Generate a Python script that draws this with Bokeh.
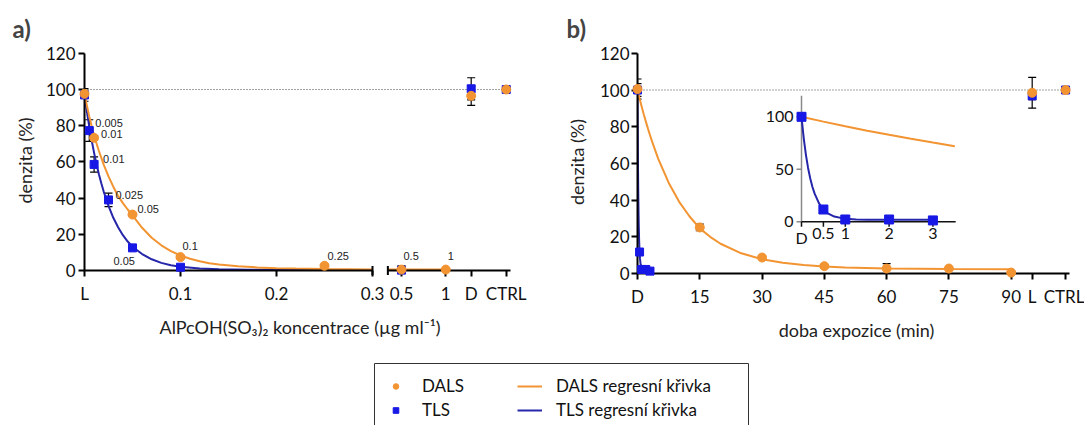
import numpy as np
from bokeh.plotting import figure
from bokeh.layouts import column, row
from bokeh.models import ColumnDataSource, Whisker, TeeHead, FixedTicker, Range1d, Legend
from bokeh.core.properties import value
from bokeh.embed import file_html
from bokeh.resources import INLINE

# ===================== DATA =====================
# ---- panel a: concentration (µg/ml), 0 = L (laser only)
a_dals_conc = [0, 0.01, 0.05, 0.1, 0.25, 0.5, 1]
a_dals = [97.6, 73.3, 30.9, 7.4, 2.6, 0.5, 0.5]
a_dals_err = [1.5, 1.2, 0.8, 0.8, 0.6, 0.6, 0.5]
a_dals_labels = ["", "0.01", "0.05", "0.1", "0.25", "0.5", "1"]

a_tls_conc = [0, 0.005, 0.01, 0.025, 0.05, 0.1, 0.5]
a_tls = [97.0, 77.3, 58.6, 39.0, 12.5, 1.8, 0.2]
a_tls_err = [3.5, 6.0, 4.2, 3.7, 1.0, 0.8, 2.4]
a_tls_labels = ["", "0.005", "0.01", "0.025", "0.05", "", ""]

a_ctrl_cats = ["D", "CTRL"]
a_dals_ctrl = [96.5, 100.0]
a_dals_ctrl_err = [5.3, 0.8]
a_tls_ctrl = [100.4, 100.0]
a_tls_ctrl_err = [6.1, 0.8]

a_dals_fit_conc = [0, 0.005, 0.01, 0.015, 0.02, 0.025, 0.03, 0.035, 0.04, 0.045, 0.05,
                   0.06, 0.07, 0.08, 0.09, 0.1, 0.11, 0.12, 0.13, 0.14, 0.16, 0.18,
                   0.2, 0.22, 0.25, 0.3]
a_dals_fit = [97.2, 85.0, 74.5, 66.0, 58.5, 52.0, 46.3, 41.2, 37.2, 33.7, 30.5,
              23.6, 18.1, 13.9, 10.7, 8.3, 6.5, 5.1, 4.0, 3.3, 2.3, 1.7,
              1.3, 1.05, 0.85, 0.6]
a_tls_fit_conc = [0, 0.0025, 0.005, 0.0075, 0.01, 0.0125, 0.015, 0.0175, 0.02, 0.025,
                  0.03, 0.035, 0.04, 0.045, 0.05, 0.06, 0.07, 0.08, 0.09, 0.1,
                  0.12, 0.14, 0.17, 0.2, 0.25, 0.3]
a_tls_fit = [97.0, 87.8, 79.4, 71.9, 65.0, 58.8, 53.2, 48.2, 43.6, 35.7,
             29.1, 23.9, 19.5, 16.0, 13.1, 9.1, 6.2, 4.2, 2.9, 2.1,
             1.1, 0.7, 0.45, 0.35, 0.3, 0.3]
a_dals_fit2_conc = [0.35, 1.0]
a_dals_fit2 = [0.5, 0.5]
a_tls_fit2_conc = [0.35, 0.5]
a_tls_fit2 = [0.3, 0.3]

a_tick_conc = [0, 0.1, 0.2, 0.3, 0.5, 1]
a_tick_labels = ["L", "0.1", "0.2", "0.3", "0.5", "1"]

# ---- panel b: exposure time (min), 0 = D
b_dals_time = [0, 15, 30, 45, 60, 75, 90]
b_dals = [100.5, 25.1, 8.7, 4.0, 2.7, 2.7, 0.5]
b_dals_err = [5.5, 1.8, 0.8, 0.8, 2.7, 0.6, 0.5]
b_tls_time = [0, 0.5, 1, 2, 3]
b_tls = [100.0, 11.7, 2.2, 2.2, 1.3]
b_tls_err = [3.5, 1.0, 0.8, 0.8, 0.8]

b_ctrl_cats = ["L", "CTRL"]
b_dals_ctrl = [98.5, 100.0]
b_dals_ctrl_err = [8.4, 0.6]
b_tls_ctrl = [96.8, 100.0]
b_tls_ctrl_err = [2.0, 0.6]

b_dals_fit_time = [0, 0.5, 1, 1.5, 2, 2.5, 3, 3.5, 5, 7.5, 10, 12.5, 15, 17.5, 20, 25,
                   30, 35, 40, 45, 50, 60, 75, 90]
b_dals_fit = [100.0, 95.4, 91.0, 86.8, 82.9, 79.1, 75.5, 72.0, 62.5, 49.5, 39.2, 31.2,
              24.6, 20.0, 16.2, 11.0, 7.8, 5.8, 4.6, 3.8, 3.3, 2.7, 2.4, 2.3]
b_tls_fit_time = [0, 0.05, 0.1, 0.15, 0.2, 0.25, 0.3, 0.4, 0.5, 0.6, 0.75, 1, 1.25,
                  1.5, 2, 3]
b_tls_fit = [100.0, 80.0, 64.0, 51.3, 41.2, 33.2, 26.8, 17.6, 11.8, 8.1, 5.0, 2.8, 2.2,
             2.0, 1.9, 1.9]

b_tick_time = [0, 15, 30, 45, 60, 75, 90]
b_tick_labels = ["D", "15", "30", "45", "60", "75", "90"]

inset_x_ticks = [0, 0.5, 1, 2, 3]
inset_x_labels = ["D", "0.5", "1", "2", "3"]
inset_y_ticks = [0, 50, 100]
inset_y_labels = ["0", "50", "100"]

y_ticks = [0, 20, 40, 60, 80, 100, 120]
ref_level = 100.0

# ===================== STYLE / LAYOUT =====================
ORANGE = "#F29432"
BLUE_M = "#1818E6"
BLUE_L = "#2626AA"
FONT = "Lato"

# panel a geometry (pixels); frame edges sit on the axis lines
A_PX_X = 96.0          # px per 0.1 µg/ml
A_PX_Y = 1.81
A_LEFT, A_FW, A_RIGHT = 84, 431, 25
A_TOP, A_FH, A_BOTTOM = 50, 220, 70
A_SEG2_ORIGIN = 3.302  # position of 0.5
A_SEG2_SCALE = 0.922
A_CAT_POS = {"D": 4.028, "CTRL": 4.393}
A_SEG1_END, A_SEG2_BEGIN, A_AXIS_END = 3.0, 3.16, 4.4375

# panel b geometry
B_PX_X = 4.152
B_PX_Y = 1.835
B_LEFT, B_FW, B_RIGHT = 97, 438, 9
B_TOP, B_FH, B_BOTTOM = 47, 223, 70
B_CAT_POS = {"L": 95.06, "CTRL": 103.1}
B_AXIS_END = 104.1

# inset geometry (local pixels in panel b)
I_X0, I_Y0 = 261.0, 218.3
I_PX_X, I_PX_Y = 43.8, 1.05
I_X_END, I_Y_END = 3.52, 120


def a_pos(c):
    if c <= 0.3:
        return round(10 * c, 4)
    return round(A_SEG2_ORIGIN + (c - 0.5) * A_SEG2_SCALE, 4)


def style_axes(p, tick_std_x, tick_std_y, lab_std_x, lab_std_y):
    for ax in (p.xaxis[0], p.yaxis[0]):
        ax.axis_line_width = 2
        ax.axis_line_color = "black"
        ax.major_tick_line_width = 2
        ax.major_tick_line_color = "black"
        ax.major_tick_out = 6
        ax.major_tick_in = 0
        ax.minor_tick_line_color = None
        ax.major_label_text_font = FONT
        ax.major_label_text_font_size = "17px"
        ax.major_label_text_color = "#111111"
        ax.axis_label_text_font = FONT
        ax.axis_label_text_font_size = "18px"
        ax.axis_label_text_font_style = "normal"
        ax.axis_label_text_color = "#222222"
    p.xaxis[0].major_label_standoff = tick_std_x
    p.yaxis[0].major_label_standoff = tick_std_y
    p.xaxis[0].axis_label_standoff = lab_std_x
    p.yaxis[0].axis_label_standoff = lab_std_y
    p.yaxis[0].ticker = FixedTicker(ticks=y_ticks)
    p.yaxis[0].bounds = (0, 120)
    p.grid.visible = False
    p.outline_line_color = None
    p.title.text_font = FONT
    p.title.text_font_size = "24px"
    p.title.text_font_style = "bold"
    p.title.align = "left"
    p.title.standoff = 16


def whiskers(p, xs, ys, errs, **kw):
    src = ColumnDataSource(dict(x=xs, up=[y + e for y, e in zip(ys, errs)],
                                lo=[y - e for y, e in zip(ys, errs)]))
    w = Whisker(source=src, base="x", upper="up", lower="lo", dimension="height",
                line_color="black", line_width=1.2,
                upper_head=TeeHead(size=8, line_color="black", line_width=1.2),
                lower_head=TeeHead(size=8, line_color="black", line_width=1.2), **kw)
    p.add_layout(w)


# ===================== PANEL a =====================
pa = figure(frame_width=A_FW, frame_height=A_FH,
            min_border_left=A_LEFT, min_border_right=A_RIGHT,
            min_border_top=A_TOP, min_border_bottom=A_BOTTOM,
            x_range=Range1d(0, A_FW / A_PX_X), y_range=Range1d(0, A_FH / A_PX_Y),
            toolbar_location=None, output_backend="svg", title="a)",
            background_fill_color="white", border_fill_color="white")
style_axes(pa, 6, 3, 9, 7)
pa.title.offset = 12 - A_LEFT
pa.xaxis[0].axis_label = "AlPcOH(SO\u2083)\u2082 koncentrace (\u00b5g ml\u207b\u00b9)"
pa.yaxis[0].axis_label = "denzita (%)"
a_tick_pos = [a_pos(c) for c in a_tick_conc] + [A_CAT_POS[c] for c in a_ctrl_cats]
a_all_labels = a_tick_labels + a_ctrl_cats
pa.xaxis[0].ticker = FixedTicker(ticks=a_tick_pos)
pa.xaxis[0].major_label_overrides = {p_: l for p_, l in zip(a_tick_pos, a_all_labels)}
pa.xaxis[0].axis_line_color = None
# broken x-axis line
pa.segment(x0=[0, A_SEG2_BEGIN], x1=[A_SEG1_END, A_AXIS_END], y0=[0, 0], y1=[0, 0],
           line_color="black", line_width=2, level="overlay")
pa.scatter(x=[A_SEG1_END, A_SEG2_BEGIN], y=[0, 0], marker="dash", angle=np.pi / 2,
           size=9, line_color="black", line_width=2, level="overlay")
# reference level
pa.segment(x0=[0], x1=[A_CAT_POS["CTRL"] + 0.04], y0=[ref_level], y1=[ref_level],
           line_color="#444444", line_width=1, line_dash="1 2")

pa.line([a_pos(c) for c in a_tls_fit_conc], a_tls_fit, line_color=BLUE_L, line_width=2)
pa.line([a_pos(c) for c in a_tls_fit2_conc], a_tls_fit2, line_color=BLUE_L, line_width=2)
pa.line([a_pos(c) for c in a_dals_fit_conc], a_dals_fit, line_color=ORANGE, line_width=2)
pa.line([a_pos(c) for c in a_dals_fit2_conc], a_dals_fit2, line_color=ORANGE, line_width=2)

a_tls_x = [a_pos(c) for c in a_tls_conc] + [A_CAT_POS[c] for c in a_ctrl_cats]
a_tls_y = a_tls + a_tls_ctrl
a_dals_x = [a_pos(c) for c in a_dals_conc] + [A_CAT_POS[c] for c in a_ctrl_cats]
a_dals_y = a_dals + a_dals_ctrl
whiskers(pa, a_tls_x, a_tls_y, a_tls_err + a_tls_ctrl_err)
whiskers(pa, a_dals_x, a_dals_y, a_dals_err + a_dals_ctrl_err)
pa.scatter(a_tls_x, a_tls_y, marker="square", size=8, fill_color=BLUE_M, line_color=BLUE_M,
           level="overlay")
pa.scatter(a_dals_x, a_dals_y, marker="circle", size=9, fill_color=ORANGE, line_color=ORANGE,
           level="overlay")

# point annotations (offsets are styling, in px)
a_dals_lbl_dx = [0, 7, 5, 2, 3, 2, 2]
a_dals_lbl_dy = [0, -4, -6, -11, -10, -14, -14]
a_tls_lbl_dx = [0, 6, 9, 7, -19, 0, 0]
a_tls_lbl_dy = [0, -8, -5, -5, 13, 0, 0]
lbl = dict(x=[], y=[], t=[], dx=[], dy=[])
for xs, ys, ts, dxs, dys in ((a_dals_conc, a_dals, a_dals_labels, a_dals_lbl_dx, a_dals_lbl_dy),
                             (a_tls_conc, a_tls, a_tls_labels, a_tls_lbl_dx, a_tls_lbl_dy)):
    for c, v, t, dx, dy in zip(xs, ys, ts, dxs, dys):
        if t:
            lbl["x"].append(a_pos(c)); lbl["y"].append(v); lbl["t"].append(t)
            lbl["dx"].append(dx); lbl["dy"].append(dy)
pa.text(x="x", y="y", text="t", x_offset="dx", y_offset="dy", source=ColumnDataSource(lbl),
        text_font=value("Liberation Sans"), text_font_size="11px", text_color="#222222",
        text_align="left", text_baseline="middle")

# ===================== PANEL b =====================
pb = figure(frame_width=B_FW, frame_height=B_FH,
            min_border_left=B_LEFT, min_border_right=B_RIGHT,
            min_border_top=B_TOP, min_border_bottom=B_BOTTOM,
            x_range=Range1d(0, B_FW / B_PX_X), y_range=Range1d(0, B_FH / B_PX_Y),
            toolbar_location=None, output_backend="svg", title="b)",
            background_fill_color="white", border_fill_color="white")
style_axes(pb, 6, 2, 9, 9)
pb.title.offset = 26 - B_LEFT
pb.xaxis[0].axis_label = "doba expozice (min)"
pb.yaxis[0].axis_label = "denzita (%)"
b_tick_pos = b_tick_time + [B_CAT_POS[c] for c in b_ctrl_cats]
b_all_labels = b_tick_labels + b_ctrl_cats
pb.xaxis[0].ticker = FixedTicker(ticks=b_tick_pos)
pb.xaxis[0].major_label_overrides = {p_: l for p_, l in zip(b_tick_pos, b_all_labels)}
pb.xaxis[0].bounds = (0, B_AXIS_END)

pb.segment(x0=[0], x1=[B_CAT_POS["CTRL"] + 0.8], y0=[ref_level], y1=[ref_level],
           line_color="#444444", line_width=1, line_dash="1 2")

pb.line(b_tls_fit_time, b_tls_fit, line_color=BLUE_L, line_width=2)
pb.line(b_dals_fit_time, b_dals_fit, line_color=ORANGE, line_width=2)
b_tls_x = b_tls_time + [B_CAT_POS[c] for c in b_ctrl_cats]
b_tls_y = b_tls + b_tls_ctrl
b_dals_x = b_dals_time + [B_CAT_POS[c] for c in b_ctrl_cats]
b_dals_y = b_dals + b_dals_ctrl
whiskers(pb, b_tls_x, b_tls_y, b_tls_err + b_tls_ctrl_err)
whiskers(pb, b_dals_x, b_dals_y, b_dals_err + b_dals_ctrl_err)
pb.scatter(b_tls_x, b_tls_y, marker="square", size=8, fill_color=BLUE_M, line_color=BLUE_M,
           level="overlay")
pb.scatter(b_dals_x, b_dals_y, marker="circle", size=9, fill_color=ORANGE, line_color=ORANGE,
           level="overlay")

# ---- inset (extra ranges mapped to a sub-region of panel b's frame)
pb.extra_x_ranges["ix"] = Range1d((B_LEFT - I_X0) / I_PX_X, (B_LEFT + B_FW - I_X0) / I_PX_X)
pb.extra_y_ranges["iy"] = Range1d((I_Y0 - B_TOP - B_FH) / I_PX_Y, (I_Y0 - B_TOP) / I_PX_Y)
ik = dict(x_range_name="ix", y_range_name="iy")
pb.segment(x0=[0], y0=[0], x1=[0], y1=[I_Y_END], line_color="#8a8a8a", line_width=1.5, **ik)
pb.ray(x=[0] * len(inset_y_ticks), y=inset_y_ticks, length=5, length_units="screen",
       angle=np.pi, line_color="#8a8a8a", line_width=1.5, **ik)
pb.segment(x0=[0], y0=[0], x1=[I_X_END], y1=[0], line_color="#111111", line_width=1.5, **ik)
pb.ray(x=inset_x_ticks, y=[0] * len(inset_x_ticks), length=5, length_units="screen",
       angle=-np.pi / 2, line_color="#111111", line_width=1.5, **ik)
pb.text(x=inset_x_ticks, y=[0] * len(inset_x_ticks), text=inset_x_labels, y_offset=6,
        text_font=value(FONT), text_font_size="16px", text_color="#111111",
        text_align="center", text_baseline="top", **ik)
pb.text(x=[0] * len(inset_y_ticks), y=inset_y_ticks, text=inset_y_labels, x_offset=-8,
        text_font=value(FONT), text_font_size="16px", text_color="#111111",
        text_align="right", text_baseline="middle", **ik)
in_dals_t = [t for t in b_dals_fit_time if t <= I_X_END]
in_dals_v = [v for t, v in zip(b_dals_fit_time, b_dals_fit) if t <= I_X_END]
pb.line(in_dals_t, in_dals_v, line_color=ORANGE, line_width=2, **ik)
pb.line(b_tls_fit_time, b_tls_fit, line_color=BLUE_L, line_width=2, **ik)
whiskers(pb, b_tls_time, b_tls, b_tls_err, **ik)
pb.scatter(b_tls_time, b_tls, marker="square", size=9, fill_color=BLUE_M, line_color=BLUE_M,
           level="overlay", **ik)

# ===================== LEGEND =====================
pl = figure(width=1084, height=85, x_range=Range1d(0, 1084), y_range=Range1d(0, 85),
            toolbar_location=None, output_backend="svg", min_border=0,
            min_border_left=0, min_border_right=0, min_border_top=0, min_border_bottom=0,
            x_axis_location=None, y_axis_location=None)
pl.grid.visible = False
pl.outline_line_color = None
pl.quad(left=[374], right=[748], top=[62], bottom=[-10], fill_color=None,
        line_color="#333333", line_width=1)
r_d = pl.scatter([-50], [-50], marker="circle", size=9, fill_color=ORANGE, line_color=ORANGE)
r_t = pl.scatter([-50], [-50], marker="square", size=8, fill_color=BLUE_M, line_color=BLUE_M)
r_dl = pl.line([-50, -40], [-50, -50], line_color=ORANGE, line_width=2)
r_tl = pl.line([-50, -40], [-50, -50], line_color=BLUE_L, line_width=2)
for items, loc in (([("DALS", [r_d]), ("TLS", [r_t])], (383, 5)),
                   ([("DALS regresní křivka", [r_dl]), ("TLS regresní křivka", [r_tl])], (517, 5))):
    lg = Legend(items=items, location=loc, orientation="vertical",
                border_line_color=None, background_fill_alpha=0, padding=0, margin=0,
                spacing=3, glyph_width=25, glyph_height=14, label_height=20,
                label_standoff=14, label_text_font=FONT, label_text_font_size="17px",
                label_text_color="#111111")
    pl.add_layout(lg)

layout = column(row(pa, pb), pl)
open("out.html", "w").write(file_html(layout, INLINE, "chart"))
